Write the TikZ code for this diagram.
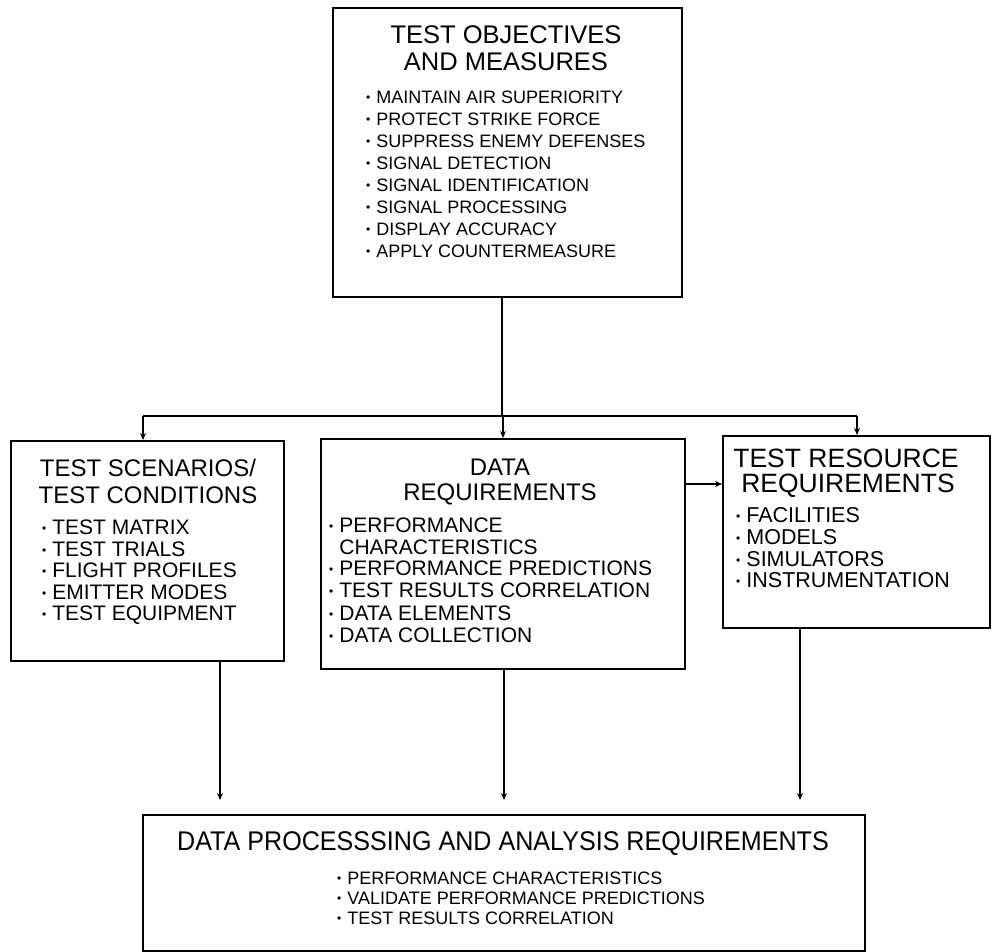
\documentclass[tikz,border=0pt]{standalone}
\usepackage{fontspec}
\setmainfont{Liberation Sans}
\newfontfamily\condfont{Liberation Sans}[FakeStretch=0.93]
\usetikzlibrary{arrows.meta}
\newcommand{\bul}{{\fontsize{12}{12}\selectfont\raisebox{0.3ex}{•}}\hspace{6pt}}
\tikzset{
  box/.style={draw=black, line width=2pt, rectangle, anchor=north west, inner sep=0pt},
  ttl/.style={font=\fontsize{24}{24}\selectfont, anchor=base, inner sep=0pt},
  item/.style={font=\fontsize{18}{18}\selectfont, anchor=base west, inner sep=0pt},
  bigitem/.style={font=\fontsize{21}{21}\selectfont, anchor=base west, inner sep=0pt},
  conn/.style={line width=2pt},
  arr/.style={line width=2pt, -{Stealth[length=7pt,width=6pt]}}
}
\begin{document}
\begin{tikzpicture}[x=1pt,y=-1pt]
\useasboundingbox[fill=white] (0,0) rectangle (993,952);
% boxes
\node[box, minimum width=349pt, minimum height=289pt] (top) at (332,7) {};
\node[box, minimum width=273pt, minimum height=220pt] (left) at (10,440) {};
\node[box, minimum width=364pt, minimum height=230pt] (mid) at (320,438) {};
\node[box, minimum width=267pt, minimum height=192pt] (right) at (722,435) {};
\node[box, minimum width=722pt, minimum height=136pt] (bot) at (142,814) {};
% top texts
\node[ttl, font=\fontsize{25.5}{25.5}\selectfont] (tt1) at (506,44) {TEST OBJECTIVES};
\node[ttl, font=\fontsize{25.5}{25.5}\selectfont] (tt2) at (506,71) {AND MEASURES};
\foreach \t [count=\i] in {MAINTAIN AIR SUPERIORITY, PROTECT STRIKE FORCE, SUPPRESS ENEMY DEFENSES, SIGNAL DETECTION, SIGNAL IDENTIFICATION, SIGNAL PROCESSING, DISPLAY ACCURACY, APPLY COUNTERMEASURE}
  \node[item] (ti\i) at ({366},{81.5+22*\i}) {\bul\t};
% left texts
\node[ttl] (lt1) at (148,476.5) {TEST SCENARIOS/};
\node[ttl] (lt2) at (148,503.5) {TEST CONDITIONS};
\foreach \t [count=\i] in {TEST MATRIX, TEST TRIALS, FLIGHT PROFILES, EMITTER MODES, TEST EQUIPMENT}
  \node[bigitem] (li\i) at ({42},{513+21.5*\i}) {\bul\t};
% middle texts
\node[ttl] (mt1) at (500,475.5) {DATA};
\node[ttl] (mt2) at (500,500.5) {REQUIREMENTS};
\node[bigitem] (mi1) at (329,532.5) {\bul PERFORMANCE};
\node[bigitem] (mi1b) at (329,554.5) {\phantom{\bul}CHARACTERISTICS};
\node[bigitem] (mi2) at (329,575.5) {\bul PERFORMANCE PREDICTIONS};
\node[bigitem] (mi3) at (329,597.5) {\bul TEST RESULTS CORRELATION};
\node[bigitem] (mi4) at (329,620.5) {\bul DATA ELEMENTS};
\node[bigitem] (mi5) at (329,642.5) {\bul DATA COLLECTION};
% right texts
\node[ttl, font=\fontsize{26.5}{26.5}\selectfont] (rt1) at (846,467) {TEST RESOURCE};
\node[ttl, font=\fontsize{26.5}{26.5}\selectfont] (rt2) at (848,492) {REQUIREMENTS};
\foreach \t [count=\i] in {FACILITIES, MODELS, SIMULATORS, INSTRUMENTATION}
  \node[bigitem, font=\fontsize{21.5}{21.5}\selectfont] (ri\i) at ({736},{501+21.7*\i}) {\bul\t};
% bottom texts
\node[ttl, font=\condfont\fontsize{27}{27}\selectfont] (bt1) at (503,850) {DATA PROCESSSING AND ANALYSIS REQUIREMENTS};
\foreach \t [count=\i] in {PERFORMANCE CHARACTERISTICS, VALIDATE PERFORMANCE PREDICTIONS, TEST RESULTS CORRELATION}
  \node[item] (bi\i) at ({337},{864.5+20*\i}) {\bul\t};
% connectors
\coordinate (j) at (502,416);
\coordinate (hl) at (143,416);
\coordinate (hm) at (503,416);
\coordinate (hr) at (857,416);
\draw[conn] (top.south -| j) -- (j);
\draw[conn] (hl) -- (hr);
\draw[arr] (hl) -- (hl |- left.north);
\draw[arr] (hm) -- (hm |- mid.north);
\draw[arr] (hr) -- (hr |- right.north);
\coordinate (m2r) at (684,484);
\draw[arr] (m2r) -- (m2r -| right.west);
\coordinate (d1) at (220,800);
\coordinate (d2) at (504,800);
\coordinate (d3) at (800,800);
\draw[arr] (d1 |- left.south) -- (d1);
\draw[arr] (d2 |- mid.south) -- (d2);
\draw[arr] (d3 |- right.south) -- (d3);
\end{tikzpicture}
\end{document}
